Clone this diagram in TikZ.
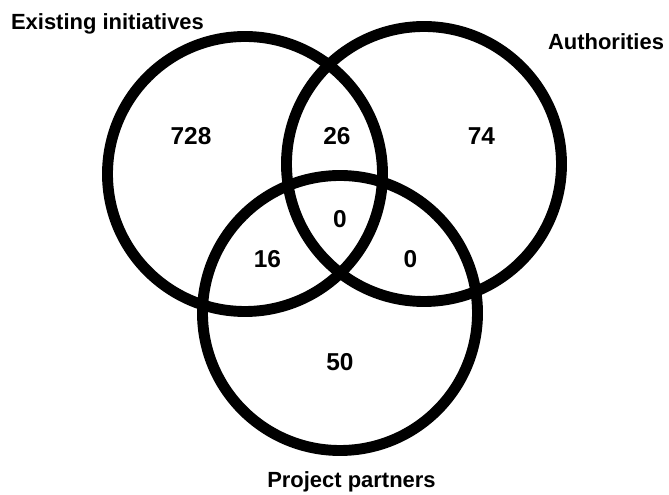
\documentclass[tikz,border=0pt]{standalone}
\usepackage{fontspec}
\setmainfont{Liberation Sans}

\begin{document}
\begin{tikzpicture}[
  set/.style={draw, circle, line width=6.2pt, minimum size=5.5cm, inner sep=0pt},
  setname/.style={anchor=base, font=\fontsize{12.5}{15}\selectfont\bfseries},
  count/.style={anchor=base, font=\fontsize{13.9}{16}\selectfont\bfseries}
]
  \useasboundingbox (0,0) rectangle (13.38,9.90);

  % The three sets
  \node[set] (init) at (4.90,6.42) {};
  \node[set] (auth) at (8.48,6.62) {};
  \node[set] (partners) at (6.80,3.64) {};

  % Set names
  \node[setname] (initname) at (2.15,9.31) {Existing initiatives};
  \node[setname] (authname) at (12.12,8.91) {Authorities};
  \node[setname] (partnersname) at (7.03,0.14) {Project partners};

  % Counts per region
  \node[count] (onlyinit) at (3.82,7.00) {728};
  \node[count] (initauth) at (6.74,7.00) {26};
  \node[count] (onlyauth) at (9.63,7.01) {74};
  \node[count] (all) at (6.80,5.34) {0};
  \node[count] (initpart) at (5.35,4.54) {16};
  \node[count] (authpart) at (8.21,4.54) {0};
  \node[count] (onlypart) at (6.80,2.48) {50};
\end{tikzpicture}
\end{document}
